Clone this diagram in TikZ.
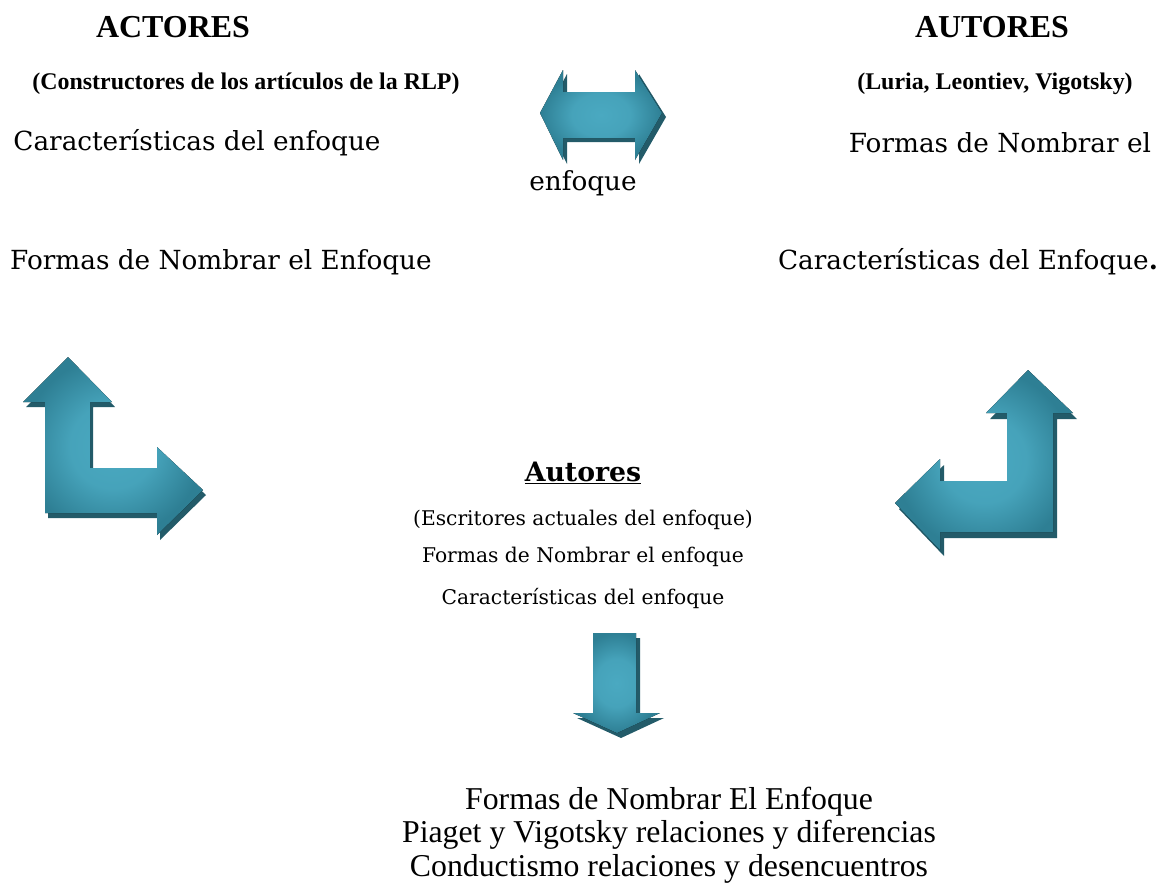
\documentclass[tikz,border=0pt]{standalone}
\usepackage{fontspec}
\setmainfont{DejaVu Serif}
\newfontfamily\timesfont{Liberation Serif}
\definecolor{arrowlight}{HTML}{4AA9C1}
\definecolor{arrowdark}{HTML}{2E7F94}
\definecolor{arrowshade}{HTML}{235B69}
\pgfdeclareradialshading{arrowglow}{\pgfpoint{0bp}{0bp}}{%
  color(0bp)=(arrowlight); color(12bp)=(arrowlight!85!arrowdark); color(25bp)=(arrowdark); color(50bp)=(arrowdark)}
\tikzset{
  blockarrow/.style={shading=arrowglow},
  arrowshadow/.style={fill=arrowshade},
  heading/.style={font=\timesfont\bfseries\fontsize{22.7}{26}\selectfont},
  subheading/.style={font=\timesfont\bfseries\fontsize{17}{20}\selectfont},
  bigtext/.style={font=\fontsize{18.7}{22}\selectfont},
  smalltext/.style={font=\fontsize{14.4}{17}\selectfont},
  result/.style={font=\timesfont\fontsize{22.6}{24}\selectfont,align=center}
}
% block arrows (pixel coordinates, y downwards)
\newcommand\dblArrow[1]{\fill[#1] (540,113) -- (563,70) -- (563,92) -- (635,92) -- (635,70)
  -- (662,113) -- (635,160) -- (635,138) -- (563,138) -- (563,160) -- cycle;}
\newcommand\leftCorner[1]{\fill[#1] (68,357) -- (112,402) -- (90,402) -- (90,468) -- (157,468)
  -- (157,447) -- (203,490) -- (157,535) -- (157,513) -- (45,513) -- (45,402) -- (23,402) -- cycle;}
\newcommand\rightCorner[1]{\fill[#1] (1028,370) -- (1073,413) -- (1053,413) -- (1053,532) -- (940,532)
  -- (940,550) -- (895,503) -- (940,459) -- (940,481) -- (1007,481) -- (1007,413) -- (986,413) -- cycle;}
\newcommand\downArrow[1]{\fill[#1] (593,633) -- (636,633) -- (636,713) -- (660,713) -- (617,733)
  -- (573,713) -- (593,713) -- cycle;}

\begin{document}
\begin{tikzpicture}[x=0.025cm,y=-0.025cm]
  \useasboundingbox (0,0) rectangle (1164,890);

  % Headings
  \node[heading] (actores) at (173,27) {ACTORES};
  \node[heading] (autoresTop) at (992,27) {AUTORES};
  \node[subheading] (actoresSub) at (246,84) {(Constructores de los artículos de la RLP)};
  \node[subheading] (autoresSub) at (995,84) {(Luria, Leontiev, Vigotsky)};

  % Upper texts
  \node[bigtext] (caracIzq) at (197,143) {Características del enfoque};
  \node[bigtext] (formasDer) at (1000,143) {Formas de Nombrar el};
  \node[bigtext] (enfoque) at (583,183) {enfoque};
  \node[bigtext] (formasIzq) at (221,262) {Formas de Nombrar el Enfoque};
  \node[bigtext] (caracDer) at (968,262) {Características del Enfoque\textbf{.}};

  % Arrows
  \dblArrow{arrowshadow,shift={(4,4)}}
  \dblArrow{blockarrow}
  \leftCorner{arrowshadow,shift={(3,5)}}
  \leftCorner{blockarrow}
  \rightCorner{arrowshadow,shift={(4,6)}}
  \rightCorner{blockarrow}
  \downArrow{arrowshadow,shift={(4,5)}}
  \downArrow{blockarrow}

  % Centre
  \node[font=\bfseries\fontsize{19}{22}\selectfont] (autores) at (583,473) {\underline{Autores}};
  \node[smalltext] (escritores) at (583,520) {(Escritores actuales del enfoque)};
  \node[smalltext] (formasCentro) at (583,557) {Formas de Nombrar el enfoque};
  \node[smalltext] (caracCentro) at (583,598) {Características del enfoque};

  % Bottom
  \node[result] (resultado) at (669,835) {Formas de Nombrar El Enfoque\\
    Piaget y Vigotsky relaciones y diferencias\\
    Conductismo relaciones y desencuentros};
\end{tikzpicture}
\end{document}
